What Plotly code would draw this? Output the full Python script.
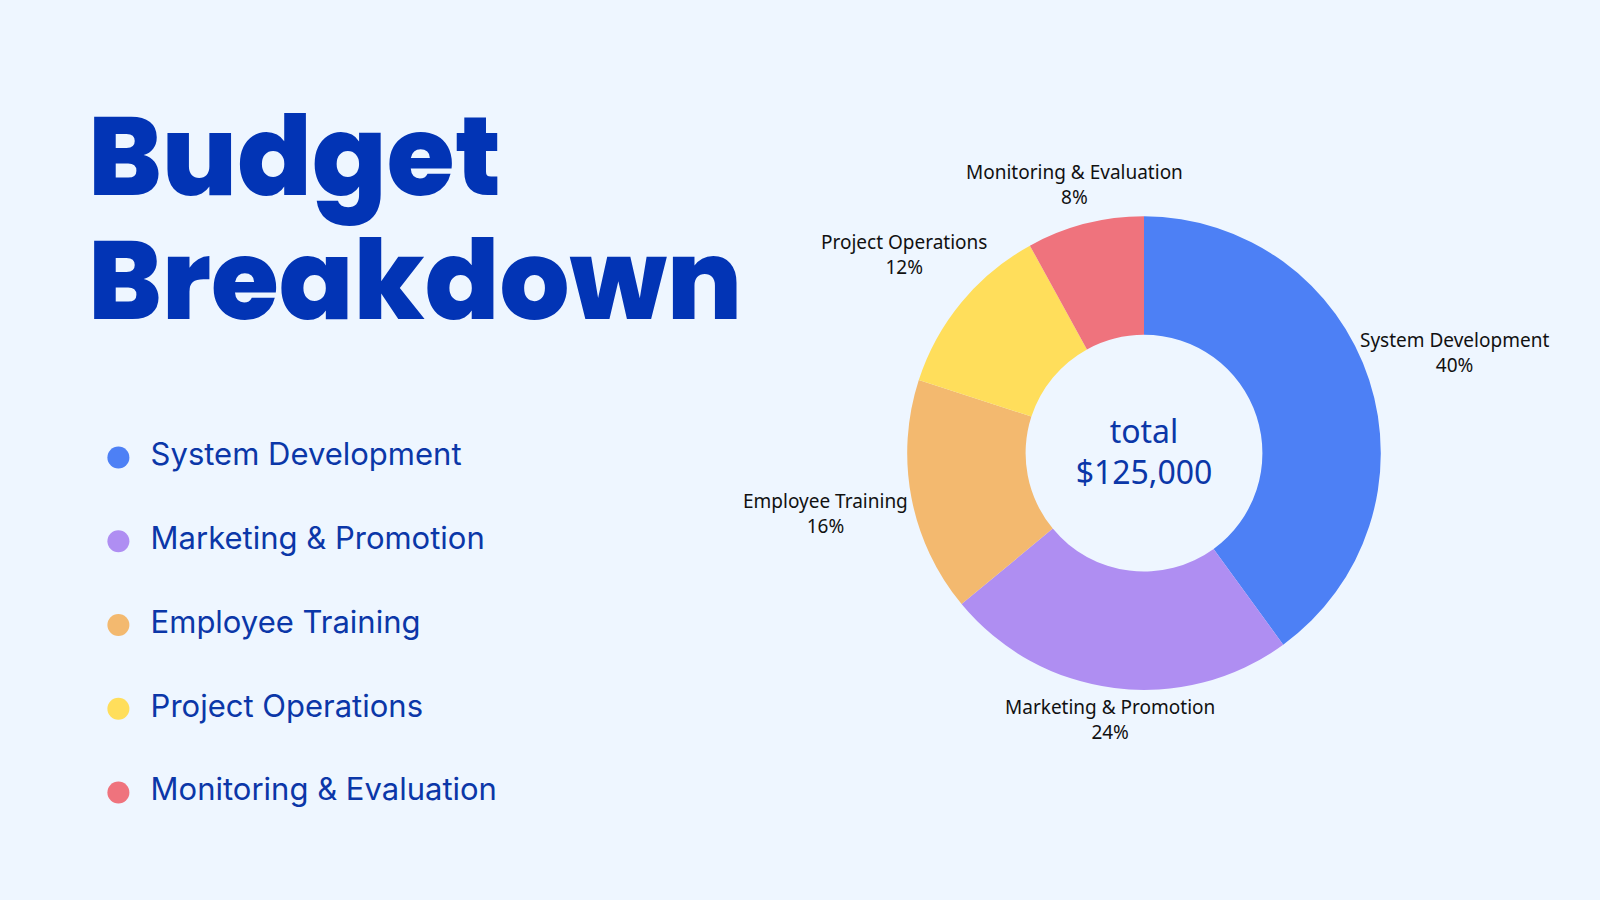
import math
import plotly.graph_objects as go

# data ------------------------------------------------------------------------
categories = ['System Development', 'Marketing & Promotion', 'Employee Training',
              'Project Operations', 'Monitoring & Evaluation']
shares = [40, 24, 16, 12, 8]
colors = ['#4d80f5', '#af8ef2', '#f3b96f', '#ffde5b', '#ef737d']
total_label = 'total<br>$125,000'
title_lines = ['Budget', 'Breakdown']

BG = '#eef6ff'
NAVY = '#0234b5'
TEXT_BLUE = '#0b37a8'
(W, H) = (1600, 900)
# donut geometry (paper / px) ------------------------------------------------
(DOM_X, DOM_Y) = ([0.567, 0.863], [0.233, 0.760])
CX, CY = sum(DOM_X) / 2, sum(DOM_Y) / 2
R = (DOM_X[1] - DOM_X[0]) * W / 2
(CHAR_W, LABEL_H, PAD) = (9.7, 44, 6)

fig = go.Figure()

# donut -----------------------------------------------------------------------
fig.add_trace(go.Pie(
    labels=categories, values=shares,
    marker=dict(colors=colors, line=dict(width=0)),
    hole=0.5, sort=False, direction='clockwise', rotation=0,
    textinfo='none',
    title=dict(text=total_label, position='middle center',
               font=dict(family='Noto Sans', size=32, color=TEXT_BLUE)),
    domain=dict(x=DOM_X, y=DOM_Y),
    showlegend=False, hoverinfo='label+percent'
))

# slice labels, placed along each slice's mid angle ---------------------------
total = sum(shares)
cum = 0
for cat, share in zip(categories, shares):
    mid = (cum + share / 2) / total * 2 * math.pi
    cum += share
    (dx, dy) = (math.sin(mid), math.cos(mid))
    dist = R + PAD + math.hypot(len(cat) * CHAR_W / 2 * dx, LABEL_H / 2 * dy)
    fig.add_annotation(
        text='{}<br>{:.0f}%'.format(cat, share / total * 100),
        xref='paper', yref='paper',
        x=CX + dist * dx / W, y=CY + dist * dy / H,
        xanchor='center', yanchor='middle', showarrow=False,
        font=dict(family='Noto Sans', size=19, color='#111111')
    )

# legend list (dots + labels) ------------------------------------------------
fig.add_trace(go.Scatter(
    x=[0] * len(categories), y=categories,
    mode='markers+text', text=['  ' + c for c in categories],
    textposition='middle right',
    textfont=dict(family='Inter, Noto Sans', size=31, color=TEXT_BLUE),
    marker=dict(size=22, color=colors),
    cliponaxis=False, showlegend=False, hoverinfo='skip'
))

# title ----------------------------------------------------------------------
for i, line in enumerate(title_lines):
    fig.add_annotation(
        text=line, xref='paper', yref='paper',
        x=0.054, y=0.914 - i * 0.137, xanchor='left', yanchor='top',
        showarrow=False,
        font=dict(family='Poppins, Inter, Lato, DejaVu Sans', size=110,
                  color=NAVY, weight=800)
    )

fig.update_xaxes(visible=False, domain=[0.074, 0.5], range=[0, 1])
fig.update_yaxes(visible=False, domain=[0.0728, 0.5382], range=[4.5, -0.5],
                 type='category')
fig.update_layout(
    width=W, height=H,
    paper_bgcolor=BG, plot_bgcolor=BG,
    margin=dict(l=0, r=0, t=0, b=0),
)
fig.write_html(
    'out.html',
    config={'displayModeBar': False},
    post_script="document.body.style.margin='0';"
                "document.body.style.background='" + BG + "';"
)
